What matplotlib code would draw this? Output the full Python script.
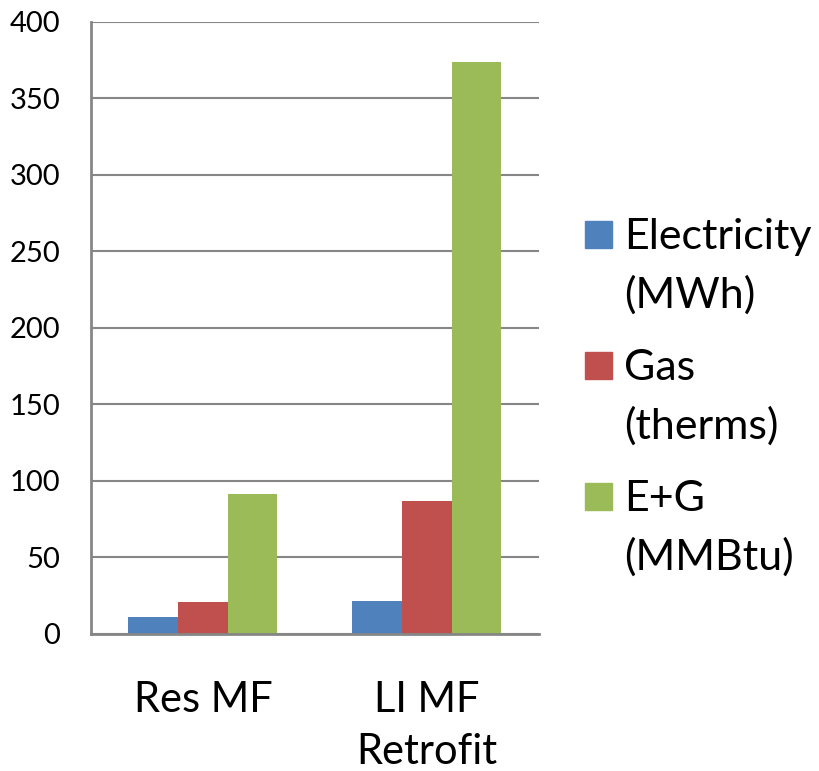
import matplotlib
matplotlib.use("Agg")
import matplotlib.pyplot as plt
import numpy as np
from matplotlib.patches import Rectangle

categories = ["Res MF", "LI MF\nRetrofit"]
series_names = ["Electricity\n(MWh)", "Gas\n(therms)", "E+G\n(MMBtu)"]
electricity = [11.1, 21.6]
gas = [20.8, 86.7]
e_plus_g = [91.5, 374.0]
colors = ["#4F81BD", "#C0504D", "#9BBB59"]
y_ticks = [0, 50, 100, 150, 200, 250, 300, 350, 400]

plt.rcParams['font.family'] = ['Lato', 'DejaVu Sans']

fig = plt.figure(figsize=(8.2, 7.71), dpi=100)
ax = fig.add_axes([0.111, 0.1777, 0.546, 0.7938])

x = np.arange(len(categories))
width = 0.222
for i, (vals, c) in enumerate(zip([electricity, gas, e_plus_g], colors)):
    ax.bar(x + (i - 1) * width, vals, width, color=c, zorder=3)

ax.set_xlim(-0.5, 1.5)
ax.set_ylim(0, 400)
ax.set_yticks(y_ticks)
ax.set_yticklabels([str(t) for t in y_ticks], fontsize=21)
ax.yaxis.grid(True, color="#868686", linewidth=1.5, zorder=0)
ax.tick_params(axis="y", length=0, pad=22)
ax.tick_params(axis="x", length=0)
ax.set_xticks([])
for side in ["top", "right"]:
    ax.spines[side].set_visible(False)
for side in ["left", "bottom"]:
    ax.spines[side].set_color("#868686")
    ax.spines[side].set_linewidth(2)
    ax.spines[side].set_zorder(4)

# category labels under the axis
for xi, cat in zip(x, categories):
    ax.text(xi, -31, cat, ha="center", va="top", fontsize=30,
            linespacing=1.45, transform=ax.transData, clip_on=False)

# legend on the right, top to bottom in series order
for j, (name, c) in enumerate(zip(series_names, colors)):
    y0 = 235 + j * 131
    fig.patches.append(Rectangle((585 / 820, 1 - (y0 + 13) / 771), 27 / 820, 27 / 771,
                                 color=c, transform=fig.transFigure))
    fig.text(624 / 820, 1 - (y0 - 17) / 771, name, ha="left", va="top",
             fontsize=31, linespacing=1.6)

fig.savefig("out.png", dpi=100)
